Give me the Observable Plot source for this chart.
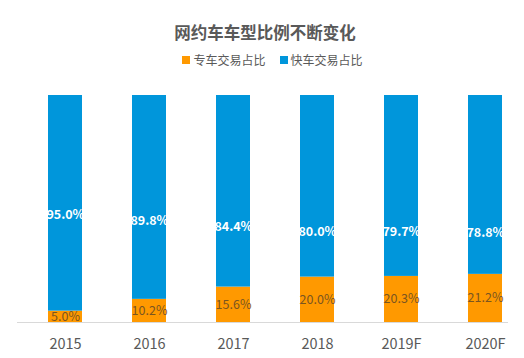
<!DOCTYPE html>
<html><head><meta charset="utf-8">
<script src="https://cdn.jsdelivr.net/npm/d3@7"></script>
<script src="https://cdn.jsdelivr.net/npm/@observablehq/plot@0.6"></script>
<style>
body{margin:0;background:#fff;font-family:"Noto Sans CJK SC","Noto Sans",sans-serif;}
#wrap{width:524px;height:358px;overflow:hidden;}
#head{height:72px;position:relative;}
#title{position:absolute;top:20px;left:0;width:530px;text-align:center;font-size:16.5px;font-weight:bold;color:#595959;line-height:24px;}
#legend{position:absolute;top:51px;left:0;width:545px;display:flex;justify-content:center;font-size:12px;color:#595959;line-height:18px;}
.item{display:flex;align-items:center;margin:0 7px;}
.sw{width:8px;height:8px;margin-right:3px;}
</style></head>
<body><div id="wrap"><div id="head"><div id="title"></div><div id="legend"></div></div><div id="chart"></div></div>
<script>
const years = ["2015","2016","2017","2018","2019F","2020F"];
const series = ["专车交易占比","快车交易占比"];
const zhuanche = [5.0,10.2,15.6,20.0,20.3,21.2];
const kuaiche = [95.0,89.8,84.4,80.0,79.7,78.8];
const colors = ["#FF9900","#0096DB"];
const titleText = "网约车车型比例不断变化";

document.getElementById("title").textContent = titleText;
const lg = document.getElementById("legend");
series.forEach((s,i)=>{
  const it=document.createElement("div");it.className="item";
  it.innerHTML=`<span class="sw" style="background:${colors[i]}"></span><span>${s}</span>`;
  lg.appendChild(it);
});

const data = [];
years.forEach((y,i)=>{
  data.push({year:y, type:series[0], value:zhuanche[i]});
  data.push({year:y, type:series[1], value:kuaiche[i]});
});
const fmt = d=>d.value.toFixed(1)+"%";

const chart = Plot.plot({
  width:524, height:286,
  marginTop:23, marginBottom:36, marginLeft:17, marginRight:16,
  style:{fontFamily:'"Noto Sans CJK SC","Noto Sans",sans-serif', background:"#fff"},
  x:{domain:years, paddingInner:0.6, paddingOuter:0.195, align:0.82, label:null},
  y:{domain:[0,100], axis:null},
  color:{domain:series, range:colors},
  marks:[
    Plot.barY(data, {x:"year", y:"value", fill:"type", order:series}),
    Plot.ruleY([0], {stroke:"#d9d9d9"}),
    Plot.text(data, Plot.stackY({x:"year", y:"value", order:series, z:"type",
      filter:d=>d.type===series[0], text:fmt, fill:"#7a5520", fontSize:12.5})),
    Plot.text(data, Plot.stackY({x:"year", y:"value", order:series, z:"type",
      filter:d=>d.type===series[1], text:fmt, fill:"#ffffff", fontWeight:"bold", fontSize:12.5})),
    Plot.axisX({tickSize:0, tickPadding:16, fontSize:14.5, color:"#595959", label:null})
  ]
});
document.getElementById("chart").appendChild(chart);
</script></body></html>
